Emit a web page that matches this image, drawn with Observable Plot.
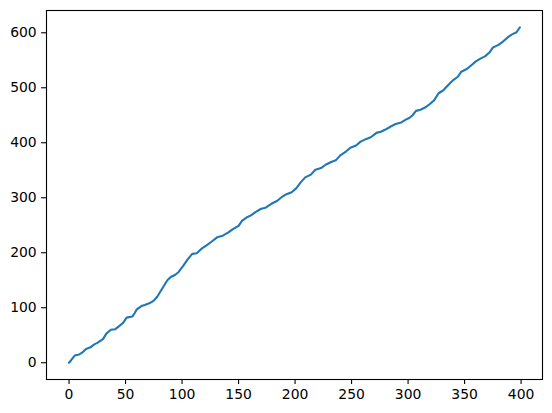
<!DOCTYPE html>
<html>
<head>
<meta charset="utf-8">
<script src="https://cdn.jsdelivr.net/npm/d3@7"></script>
<script src="https://cdn.jsdelivr.net/npm/@observablehq/plot@0.6"></script>
<style>
  html, body { margin: 0; padding: 0; background: white; }
  #chart { width: 552px; height: 413px; }
</style>
</head>
<body>
<div id="chart"></div>
<script>
// Values
const xs = [0,2,5,9,12,15,19,22,25,30,
  33,37,41,44,48,51,56,58,60,64,
  67,71,75,78,81,84,87,90,94,97,
  101,105,109,113,117,122,126,131,136,141,
  145,150,153,157,161,165,170,174,179,184,
  188,193,197,201,205,209,214,218,223,227,
  232,236,240,245,249,254,258,263,267,272,
  276,280,285,289,294,298,301,304,307,311,
  315,319,323,327,331,336,340,344,347,352,
  356,360,364,368,372,375,380,384,389,392,
  396,399];
const ys = [0,5,13,15,19,25,28,33,36,43,
  53,60,61,66,73,82,84,90,97,103,
  105,108,113,120,130,140,150,156,160,165,
  176,188,198,199,207,214,220,228,231,237,
  243,249,258,264,268,274,280,282,289,294,
  301,307,310,317,328,337,342,351,354,360,
  365,368,377,384,391,395,402,407,410,418,
  420,424,430,434,437,442,445,450,458,460,
  464,470,477,490,495,506,514,520,529,534,
  541,548,553,557,564,573,578,584,593,597,
  601,610];
const xTicks = [0,50,100,150,200,250,300,350,400];
const yTicks = [0,100,200,300,400,500,600];

const data = xs.map((x, i) => ({x, y: ys[i]}));

const chart = Plot.plot({
  width: 552,
  height: 413,
  marginLeft: 46,
  marginRight: 10,
  marginTop: 10,
  marginBottom: 34,
  style: {fontFamily: "DejaVu Sans", fontSize: "13.9px", color: "black", background: "white"},
  x: {domain: [-19.95, 418.95]},
  y: {domain: [-30.5, 640.5]},
  marks: [
    Plot.axisX({ticks: xTicks, tickSize: 4.9, tickPadding: 4.9, label: null, strokeWidth: 1.1}),
    Plot.axisY({ticks: yTicks, tickSize: 4.9, tickPadding: 4.9, label: null, strokeWidth: 1.1}),
    Plot.line(data, {x: "x", y: "y", stroke: "#1f77b4", strokeWidth: 2.1}),
    Plot.frame({stroke: "black", strokeWidth: 1.1})
  ]
});
document.getElementById("chart").appendChild(chart);
</script>
</body>
</html>
